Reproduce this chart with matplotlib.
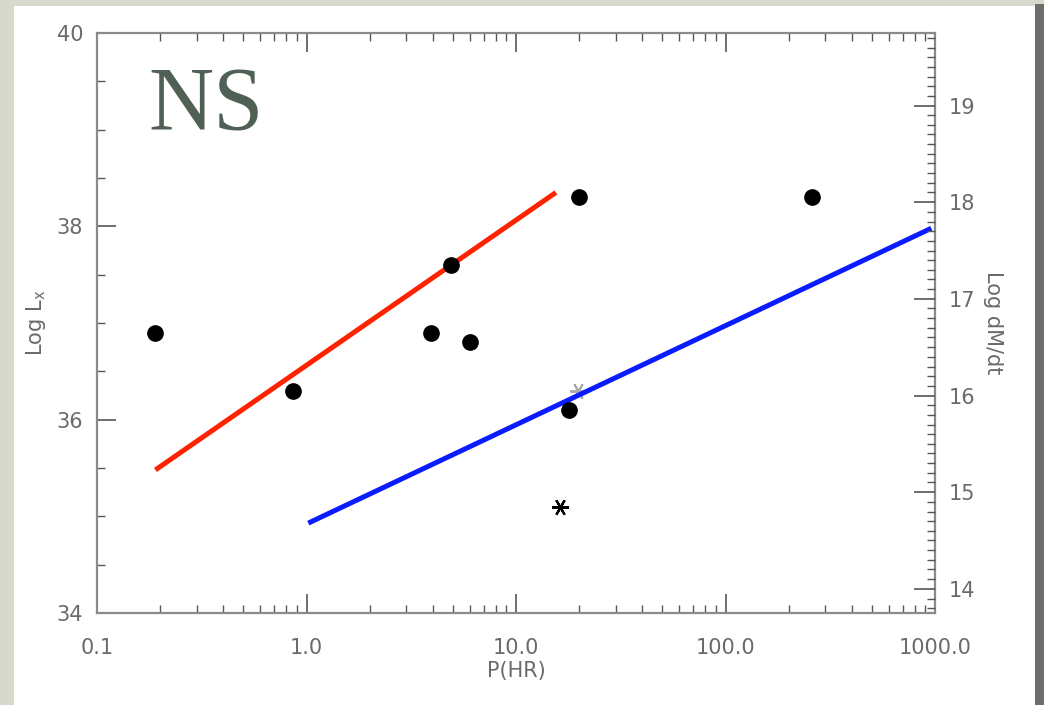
import matplotlib
matplotlib.use("Agg")
import matplotlib.pyplot as plt
from matplotlib.patches import Rectangle
from matplotlib.ticker import FixedLocator, MultipleLocator, LogLocator, NullFormatter, FixedFormatter

# ---- data ----
period_dots = [0.19, 0.86, 3.95, 4.9, 6.0, 18.0, 20.0, 260.0]
logl_dots = [36.9, 36.3, 36.9, 37.6, 36.8, 36.1, 38.3, 38.3]
period_stars = [16.2]
logl_stars = [35.1]
period_faint = [19.8]
logl_faint = [36.3]
red_p = [0.19, 15.5]
red_l = [35.48, 38.35]
blue_p = [1.02, 960.0]
blue_l = [34.93, 37.98]
x_tick_vals = [0.1, 1.0, 10.0, 100.0, 1000.0]
x_tick_labels = ["0.1", "1.0", "10.0", "100.0", "1000.0"]
y_tick_vals = [34, 36, 38, 40]
y2_tick_vals = [14, 15, 16, 17, 18, 19]
y2_offset = 20.25

W, H = 1044, 705
fig = plt.figure(figsize=(W / 100, H / 100), dpi=100, facecolor="#d7d9cd")
# white panel with shadow on the right
fig.patches.append(Rectangle((1035 / W, 0), 9 / W, 1 - 4 / H, transform=fig.transFigure,
                             facecolor="#6e6e6a", edgecolor="none", zorder=-10))
fig.patches.append(Rectangle((14 / W, 0), (1035 - 14) / W, 1 - 6 / H, transform=fig.transFigure,
                             facecolor="white", edgecolor="none", zorder=-9))

ax = fig.add_axes([97 / W, (H - 613) / H, (935 - 97) / W, (613 - 33) / H])
ax.set_facecolor("none")
ax.set_xscale("log")
ax.set_xlim(0.1, 1000)
ax.set_ylim(34, 40)

axis_col = "#8a8a8a"
text_col = "#6a6a6a"
font = ["DejaVu Sans"]

for s in ax.spines.values():
    s.set_color(axis_col)
    s.set_linewidth(1.6)

ax.xaxis.set_major_locator(FixedLocator(x_tick_vals))
ax.xaxis.set_major_formatter(FixedFormatter(x_tick_labels))
ax.xaxis.set_minor_locator(LogLocator(base=10, subs=range(2, 10)))
ax.xaxis.set_minor_formatter(NullFormatter())
ax.yaxis.set_major_locator(FixedLocator(y_tick_vals))
ax.yaxis.set_minor_locator(MultipleLocator(0.5))

ax.tick_params(axis="both", which="major", direction="in", length=14, width=1.2,
               color="#555555", labelcolor=text_col, labelsize=15)
ax.tick_params(axis="x", which="major", pad=18)
ax.tick_params(axis="y", which="major", pad=10)
ax.tick_params(axis="both", which="minor", direction="in", length=6, width=1.0, color="#555555")
ax.tick_params(axis="x", which="both", top=True)
ax.tick_params(axis="y", which="both", right=False)
for lab in ax.get_xticklabels() + ax.get_yticklabels():
    lab.set_family(font)

ax.set_xlabel("P(HR)", fontsize=15, color=text_col, family=font, labelpad=2)
ax.set_ylabel(r"Log L$_{\rm x}$", fontsize=15, color=text_col, family=font, labelpad=6)

ax2 = ax.twinx()
ax2.set_ylim(34 - y2_offset, 40 - y2_offset)
ax2.yaxis.set_major_locator(FixedLocator(y2_tick_vals))
ax2.yaxis.set_minor_locator(MultipleLocator(0.1))
ax2.tick_params(axis="y", which="major", direction="in", length=15, width=1.2,
                color="#555555", labelcolor=text_col, labelsize=15, pad=10)
ax2.tick_params(axis="y", which="minor", direction="in", length=6, width=1.0, color="#555555")
for s in ax2.spines.values():
    s.set_visible(False)
for lab in ax2.get_yticklabels():
    lab.set_family(font)
ax2.set_ylabel("Log dM/dt", fontsize=15, color=text_col, family=font, rotation=270, labelpad=20)

# lines
ax.plot(red_p, red_l, color="#ff2200", lw=3.6, solid_capstyle="butt", zorder=3)
ax.plot(blue_p, blue_l, color="#0a1cff", lw=3.6, solid_capstyle="butt", zorder=3)
# points
ax.plot(period_dots, logl_dots, "o", color="black", ms=11, zorder=4)
ax.plot(period_stars, logl_stars, marker=(6, 2, 90), ls="none", color="black", ms=12, mew=1.6, zorder=4)
ax.plot(period_faint, logl_faint, marker=(6, 2, 90), ls="none", color="#aaaaaa", ms=12, mew=1.4, zorder=2)

fig.text(148 / W, 1 - 130 / H, "NS", family=["Liberation Serif", "DejaVu Serif"],
         fontsize=65, color="#4f6055", ha="left", va="baseline")

fig.savefig("out.png", dpi=100, facecolor=fig.get_facecolor())
